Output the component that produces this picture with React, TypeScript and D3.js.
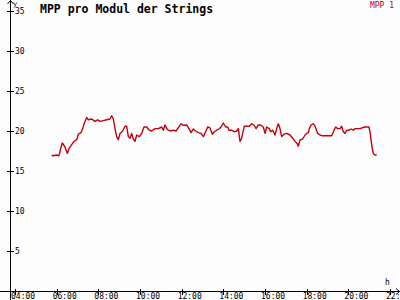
import React from "react";
import * as d3 from "d3";

const title = "MPP pro Modul der Strings";
const seriesName = "MPP 1";
const yTicks = [5, 10, 15, 20, 25, 30, 35];
const xTicks = [4, 6, 8, 10, 12, 14, 16, 18, 20, 22];
const xTickLabels = ["04:00", "06:00", "08:00", "10:00", "12:00", "14:00", "16:00", "18:00", "20:00", "22:"];

const hours = [
  5.76, 5.82, 6.0, 6.11, 6.21, 6.27, 6.4, 6.51, 6.59, 6.72, 6.85, 6.96, 7.04, 7.17, 7.25, 7.33, 7.44, 7.52, 7.68, 7.84,
  7.97, 8.08, 8.24, 8.4, 8.56, 8.64, 8.72, 8.77, 8.8, 8.88, 8.96, 9.04, 9.17, 9.28, 9.36, 9.44, 9.52, 9.6, 9.68, 9.76,
  9.84, 9.97, 10.08, 10.19, 10.32, 10.45, 10.56, 10.72, 10.88, 11.04, 11.12, 11.2, 11.31, 11.44, 11.6, 11.73, 11.89,
  11.97, 12.08, 12.24, 12.35, 12.45, 12.56, 12.67, 12.8, 12.93, 13.04, 13.15, 13.25, 13.36, 13.47, 13.57, 13.68, 13.79,
  13.89, 14.0, 14.11, 14.21, 14.27, 14.4, 14.53, 14.64, 14.72, 14.8, 14.88, 14.96, 15.01, 15.12, 15.25, 15.36, 15.47,
  15.57, 15.68, 15.79, 15.92, 16.0, 16.08, 16.21, 16.27, 16.37, 16.48, 16.56, 16.64, 16.72, 16.8, 16.91, 17.04, 17.2,
  17.33, 17.44, 17.55, 17.6, 17.68, 17.81, 17.92, 18.0, 18.08, 18.13, 18.21, 18.32, 18.4, 18.53, 18.64, 18.75, 19.2,
  19.33, 19.39, 19.49, 19.6, 19.68, 19.76, 19.84, 19.92, 20.03, 20.13, 20.24, 20.32, 20.56, 20.77, 20.99, 21.04, 21.09,
  21.15, 21.2, 21.28, 21.36,
];
const mpp = [
  17.0, 16.9, 17.0, 16.9, 18.0, 18.5, 18.0, 17.2, 17.8, 18.3, 18.75, 18.9, 19.6, 19.8, 20.3, 21.0, 21.7, 21.4, 21.5, 21.2,
  21.4, 21.2, 21.3, 21.4, 21.5, 21.9, 21.5, 20.75, 20.3, 19.3, 18.9, 19.7, 20.0, 20.6, 20.6, 19.3, 19.1, 19.7, 19.0, 18.7,
  19.5, 19.3, 19.7, 20.5, 20.5, 20.1, 20.0, 20.3, 20.3, 20.5, 20.1, 20.75, 20.2, 20.0, 20.1, 20.0, 20.6,
  20.9, 20.7, 20.75, 20.3, 19.8, 20.25, 20.0, 19.8, 19.7, 19.3, 19.9, 20.5, 20.4, 19.6, 19.9, 20.1, 20.25,
  20.5, 21.0, 20.5, 20.5, 20.1, 20.1, 19.9, 20.0, 20.3, 18.7, 19.1, 20.1, 20.6, 20.6, 20.6, 20.9, 20.75,
  20.3, 20.75, 20.75, 20.5, 19.7, 20.5, 20.3, 19.9, 20.1, 19.5, 20.3, 20.9, 20.3, 19.3, 19.6, 19.7, 19.5,
  19.1, 18.7, 18.4, 18.1, 18.9, 19.0, 19.5, 19.7, 19.8, 20.3, 20.75, 20.9, 20.6, 19.7, 19.5, 19.4, 19.4,
  20.2, 20.5, 20.3, 20.3, 20.6, 19.9, 19.7, 20.1, 20.1, 20.25, 20.1, 20.3, 20.3, 20.5, 20.5, 19.9, 18.9,
  17.8, 17.2, 17.0, 17.0,
];

const W = 400;
const H = 300;
const red = "#c4000c";
const mono = "'DejaVu Sans Mono', 'Liberation Mono', monospace";

export default function App() {
  const x = d3.scaleLinear().domain([4, 22]).range([15, 390]);
  const y = d3.scaleLinear().domain([0, 35]).range([291, 11]);
  const data = hours.map((h, i) => [h, mpp[i]] as [number, number]);
  const line = d3
    .line<[number, number]>()
    .x((d) => x(d[0]))
    .y((d) => y(d[1]));
  const ax = 10.5;
  const ay = Math.round(y(0)) + 0.5;

  return (
    <div style={{ position: "fixed", left: 0, top: 0 }}>
      <svg width={W} height={H} style={{ display: "block", background: "#fdfdfd" }}>
        <g shapeRendering="crispEdges">
          <line x1={ax} y1={0} x2={ax} y2={H} stroke="#000" strokeWidth={1} />
          <line x1={0} y1={ay} x2={W} y2={ay} stroke="#000" />
          {yTicks.map((t) => (
            <line key={t} x1={7} x2={14} y1={Math.round(y(t)) + 0.5} y2={Math.round(y(t)) + 0.5} stroke="#000" />
          ))}
          {xTicks.map((t) => (
            <line
              key={t}
              x1={Math.round(x(t)) + 0.5}
              x2={Math.round(x(t)) + 0.5}
              y1={ay - 3}
              y2={ay + 3}
              stroke="#000"
            />
          ))}
        </g>
        <path d={`M${ax - 3},4 L${ax},0.5 L${ax + 3},4`} fill="none" stroke="#000" />
        <path d={`M${W - 4},${ay - 3} L${W - 0.5},${ay} L${W - 4},${ay + 3}`} fill="none" stroke="#000" />
        <text x={13} y={6} fontFamily={mono} fontSize={7} fill="#000">y</text>
        <text x={385} y={285} fontFamily={mono} fontSize={8} fill="#000">h</text>
        {yTicks.map((t) => (
          <text key={t} x={15} y={y(t) + 3} fontFamily={mono} fontSize={8} fill="#000">
            {t}
          </text>
        ))}
        {xTicks.map((t, i) => (
          <text key={t} x={x(t) - 4} y={299} fontFamily={mono} fontSize={8} fill="#000">
            {xTickLabels[i]}
          </text>
        ))}
        <text x={40} y={13} fontFamily={mono} fontSize={11.5} fontWeight="bold" fill="#000">
          {title}
        </text>
        <text x={394} y={8} textAnchor="end" fontFamily={mono} fontSize={8} fill={red}>
          {seriesName}
        </text>
        <path d={line(data) || ""} fill="none" stroke={red} strokeWidth={1.4} strokeLinejoin="round" />
      </svg>
    </div>
  );
}
